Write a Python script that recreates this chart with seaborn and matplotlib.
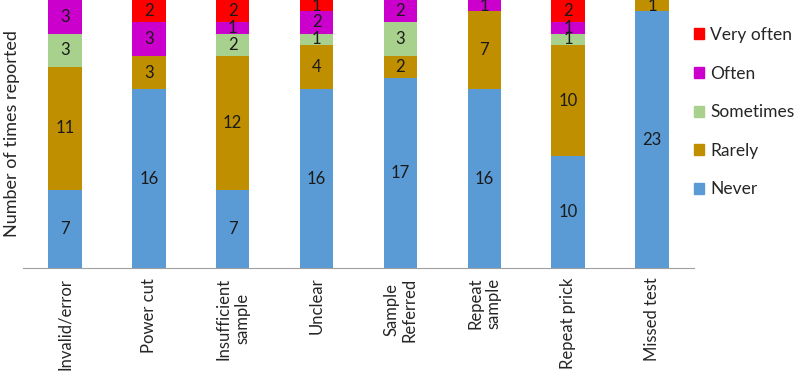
import numpy as np
import matplotlib
matplotlib.use("Agg")
import matplotlib.pyplot as plt
import seaborn as sns
from matplotlib.patches import Patch

# data
categories = ["Invalid/error", "Power cut", "Insufficient\nsample", "Unclear",
              "Sample\nReferred", "Repeat\nsample", "Repeat prick", "Missed test"]
never = [7, 16, 7, 16, 17, 16, 10, 23]
rarely = [11, 3, 12, 4, 2, 7, 10, 1]
sometimes = [3, 0, 2, 1, 3, 0, 1, 0]
often = [3, 3, 1, 2, 2, 1, 1, 0]
very_often = [0, 2, 2, 1, 0, 0, 2, 0]

series_names = ["Never", "Rarely", "Sometimes", "Often", "Very often"]
series_vals = [never, rarely, sometimes, often, very_often]
colors = ["#5B9BD5", "#BF8F00", "#A9D18E", "#CC00CC", "#FF0000"]

sns.set_style("white")
plt.rcParams["font.family"] = ["Lato", "DejaVu Sans"]

fig = plt.figure(figsize=(7.97, 3.76), dpi=100)
ax = fig.add_axes([23 / 797, 1 - 268 / 376, (694 - 23) / 797, 268 / 376])

bottom = np.zeros(len(categories))
for name, vals, col in zip(series_names, series_vals, colors):
    vals = np.array(vals, dtype=float)
    sns.barplot(x=categories, y=vals, bottom=bottom, color=col, width=0.4,
                ax=ax, saturation=1, edgecolor="none", linewidth=0)
    cont = ax.containers[-1]
    labels = [str(int(v)) if v > 0 else "" for v in vals]
    ax.bar_label(cont, labels=labels, label_type="center", fontsize=12, color="#1a1a1a")
    bottom += vals

ax.set_ylim(0, 24)
ax.set_xlim(-0.5, 7.5)
ax.set_yticks([])
ax.set_ylabel("Number of times reported", fontsize=13, labelpad=2)
for s in ["top", "right", "left"]:
    ax.spines[s].set_visible(False)
ax.spines["bottom"].set_color("#a0a0a0")
ax.tick_params(axis="x", which="major", length=0, pad=7, labelsize=12, labelrotation=90)
ax.set_xticks(np.arange(-0.5, 8.0, 1.0), minor=True)
ax.tick_params(axis="x", which="minor", length=5, color="#a0a0a0", direction="out")
for lbl in ax.get_xticklabels():
    lbl.set_multialignment("center")

handles = [Patch(color=c) for c in colors[::-1]]
fig.legend(handles, series_names[::-1], loc="upper left", bbox_to_anchor=(694 / 797, 1 - 27 / 376),
           frameon=False, fontsize=12.5, handlelength=0.6, handleheight=0.6,
           labelspacing=1.3, handletextpad=0.35, borderaxespad=0, borderpad=0)

fig.savefig("out.png", dpi=100)
